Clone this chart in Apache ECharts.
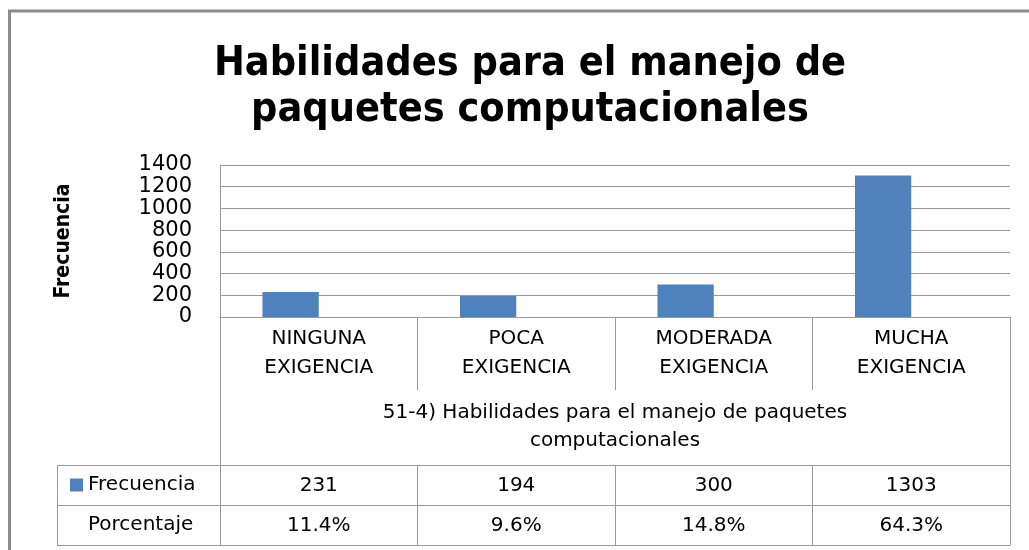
<!DOCTYPE html>
<html>
<head>
<meta charset="utf-8">
<script src="https://cdn.jsdelivr.net/npm/echarts@6/dist/echarts.min.js"></script>
<style>
  html, body { margin: 0; padding: 0; background: #fff; }
  #main { width: 1029px; height: 550px; }
</style>
</head>
<body>
<div id="main"></div>
<script>
// datos
var categorias = ['NINGUNA\nEXIGENCIA', 'POCA\nEXIGENCIA', 'MODERADA\nEXIGENCIA', 'MUCHA\nEXIGENCIA'];
var frecuencia = [231, 194, 300, 1303];
var porcentaje = [0.114, 0.096, 0.148, 0.643];
var ejeY = { min: 0, max: 1400, interval: 200 };

var titulo = 'Habilidades para el manejo de\npaquetes computacionales';
var ejeX = '51-4) Habilidades para el manejo de paquetes\ncomputacionales';

var gris = '#999999';
var fuente = 'DejaVu Sans';
var fuenteTitulo = '"Liberation Sans Narrow", "DejaVu Sans Condensed", sans-serif';

var chart = echarts.init(document.getElementById('main'));

// filas de la tabla de datos (como ejes extra)
function filaTabla(datos, offset, conMarcas) {
    return {
        type: 'category',
        data: datos,
        position: 'bottom',
        offset: offset,
        axisLine: { show: true, lineStyle: { color: gris, width: 1 } },
        axisTick: { show: conMarcas, length: 40, interval: 0, lineStyle: { color: gris } },
        axisLabel: { show: conMarcas, interval: 0, margin: 11, fontSize: 20, color: '#000', fontFamily: fuente },
        splitLine: { show: false }
    };
}

var option = {
    backgroundColor: '#fff',
    animation: false,
    title: {
        text: titulo,
        left: 525,
        top: 36,
        textAlign: 'center',
        textStyle: { fontSize: 41, fontWeight: 'bold', lineHeight: 46, color: '#000', fontFamily: fuenteTitulo }
    },
    legend: {
        orient: 'vertical',
        left: 65,
        top: 470,
        itemWidth: 13,
        itemHeight: 13,
        itemGap: 20,
        icon: 'rect',
        selectedMode: false,
        textStyle: { fontSize: 20, color: '#000', fontFamily: fuente },
        data: [
            { name: 'Frecuencia' },
            { name: 'Porcentaje', itemStyle: { opacity: 0 } }
        ]
    },
    grid: { left: 220, right: 19, top: 165, bottom: 233 },
    xAxis: [
        {
            type: 'category',
            data: categorias,
            position: 'bottom',
            axisLine: { show: true, lineStyle: { color: gris } },
            axisTick: { show: true, length: 73, interval: 0, lineStyle: { color: gris } },
            axisLabel: { interval: 0, margin: 7, fontSize: 20, lineHeight: 29, color: '#000', fontFamily: fuente },
            name: ejeX,
            nameLocation: 'middle',
            nameGap: 82,
            nameTextStyle: { fontSize: 20, lineHeight: 28, color: '#000', fontFamily: fuente }
        },
        filaTabla(frecuencia.map(String), 148, true),
        filaTabla(porcentaje.map(function (p) { return (p * 100).toFixed(1) + '%'; }), 188, true),
        filaTabla(categorias, 228, false)
    ],
    yAxis: {
        type: 'value',
        min: ejeY.min,
        max: ejeY.max,
        interval: ejeY.interval,
        axisLine: { show: true, lineStyle: { color: gris } },
        axisTick: { show: false },
        splitLine: { lineStyle: { color: gris } },
        axisLabel: {
            margin: 28, fontSize: 21, color: '#000', fontFamily: fuente,
            padding: [5, 0, 0, 0],
            showMinLabel: true, showMaxLabel: true, hideOverlap: false,
            formatter: function (v) { return String(v); }
        },
        name: 'Frecuencia',
        nameLocation: 'middle',
        nameGap: 146,
        nameTextStyle: { fontSize: 21, fontWeight: 'bold', color: '#000', fontFamily: fuenteTitulo }
    },
    series: [
        {
            name: 'Frecuencia',
            type: 'bar',
            data: frecuencia,
            barGap: '0%',
            barCategoryGap: '43%',
            itemStyle: { color: '#4F81BD' }
        },
        {
            name: 'Porcentaje',
            type: 'bar',
            data: porcentaje,
            itemStyle: { color: '#C0504D' }
        }
    ],
    graphic: [
        // marco exterior
        { type: 'rect', silent: true, shape: { x: 9.5, y: 11, width: 1040, height: 560 },
          style: { fill: null, stroke: '#8c8c8c', lineWidth: 3 } },
        // bordes de la tabla
        { type: 'line', silent: true, shape: { x1: 220.5, y1: 390, x2: 220.5, y2: 465 }, style: { stroke: gris, lineWidth: 1 } },
        { type: 'line', silent: true, shape: { x1: 1010.5, y1: 390, x2: 1010.5, y2: 465 }, style: { stroke: gris, lineWidth: 1 } },
        { type: 'rect', silent: true, shape: { x: 57.5, y: 465.5, width: 163, height: 80 },
          style: { fill: null, stroke: gris, lineWidth: 1 } },
        { type: 'line', silent: true, shape: { x1: 57.5, y1: 505.5, x2: 220.5, y2: 505.5 }, style: { stroke: gris, lineWidth: 1 } }
    ]
};

chart.setOption(option);
</script>
</body>
</html>
